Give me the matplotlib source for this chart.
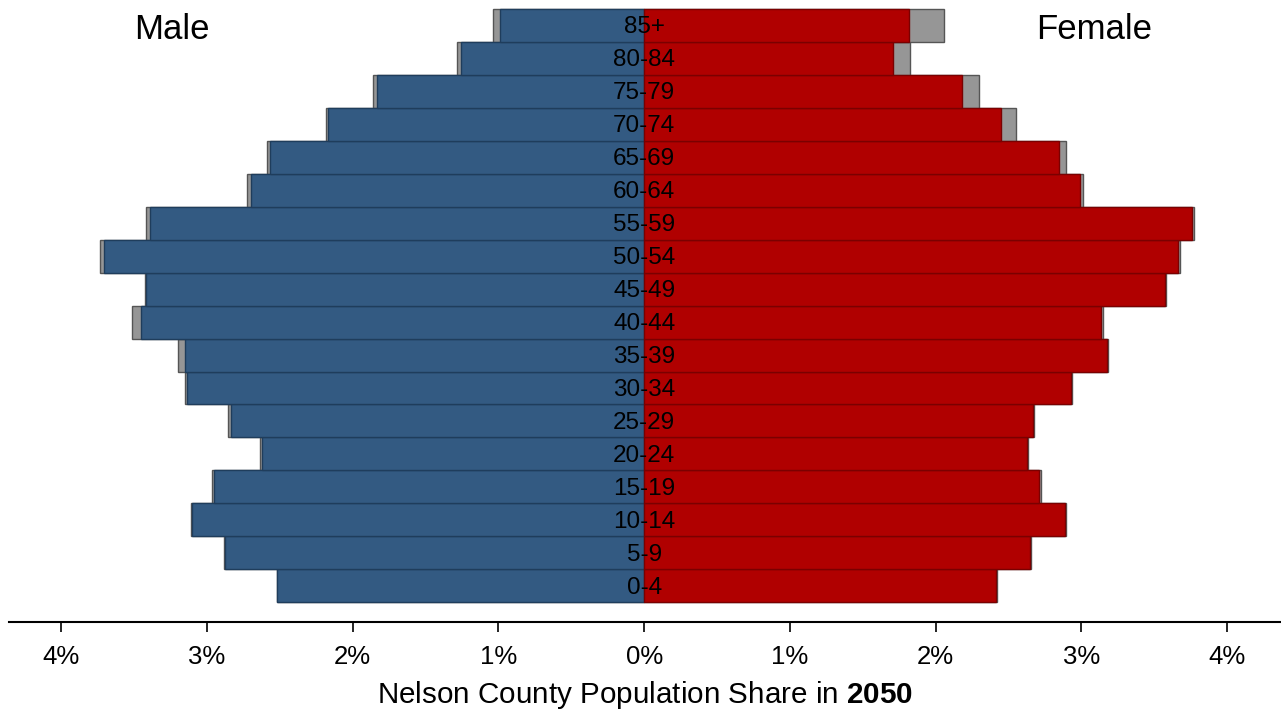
import matplotlib as mpl
mpl.use("Agg")
import matplotlib.pyplot as plt

mpl.rcParams.update({
	"font.family": ["Liberation Sans", "DejaVu Sans"],
	"mathtext.fontset": "custom",
	"mathtext.rm": "Liberation Sans",
	"mathtext.bf": "Liberation Sans:bold",
})

# Age groups, bottom to top.
AGES = ["0-4", "5-9", "10-14", "15-19", "20-24", "25-29", "30-34", "35-39", "40-44",
	"45-49", "50-54", "55-59", "60-64", "65-69", "70-74", "75-79", "80-84", "85+"]

# Population share (%) in 2050.
MALE = [2.516, 2.876, 3.102, 2.951, 2.624, 2.832, 3.134, 3.151, 3.455,
	3.415, 3.705, 3.392, 2.696, 2.566, 2.171, 1.835, 1.256, 0.986]
FEMALE = [2.413, 2.651, 2.889, 2.712, 2.628, 2.665, 2.927, 3.173, 3.136,
	3.572, 3.661, 3.760, 2.991, 2.846, 2.448, 2.180, 1.707, 1.818]

# Comparison shares drawn in gray behind.
MALE_CMP = [2.522, 2.884, 3.111, 2.963, 2.635, 2.856, 3.151, 3.200, 3.511,
	3.427, 3.731, 3.418, 2.728, 2.589, 2.180, 1.862, 1.284, 1.038]
FEMALE_CMP = [2.419, 2.657, 2.895, 2.720, 2.637, 2.674, 2.936, 3.180, 3.147,
	3.583, 3.676, 3.775, 3.014, 2.892, 2.550, 2.297, 1.824, 2.056]

TICKS = [-4, -3, -2, -1, 0, 1, 2, 3, 4]

BLUE = "#335a82"
RED = "#b00000"
GRAY = "#969696"

fig = plt.figure(figsize=(12.81, 7.17), dpi=100)
ax = fig.add_axes([9 / 1281, 95.3 / 717, 1 - 9 / 1281, 1 - 95.3 / 717])

y = list(range(len(AGES)))

# Gray comparison bars first, then the 2050 bars on top.
ax.barh(y, [-v for v in MALE_CMP], height=1.0, color=GRAY, edgecolor="#555555", linewidth=1.0)
ax.barh(y, FEMALE_CMP, height=1.0, color=GRAY, edgecolor="#555555", linewidth=1.0)
ax.barh(y, [-v for v in MALE], height=1.0, color=BLUE, edgecolor="#1f3d5c", linewidth=1.0)
ax.barh(y, FEMALE, height=1.0, color=RED, edgecolor="#7a0000", linewidth=1.0)

for i, age in enumerate(AGES):
	ax.text(0, i - 0.06, age, ha="center", va="center", fontsize=17.5, color="black")

ax.text(-3.24, 16.59, "Male", ha="center", va="baseline", fontsize=25)
ax.text(3.09, 16.59, "Female", ha="center", va="baseline", fontsize=25)

ax.set_xlim(-4.358, 4.37)
ax.set_ylim(-1.09, 17.77)
ax.set_xticks(TICKS)
ax.set_xticklabels(["%d%%" % abs(t) for t in TICKS], fontsize=18.5)
ax.tick_params(axis="x", length=7, width=1.2, pad=10)
ax.set_yticks([])
for side in ["left", "right", "top"]:
	ax.spines[side].set_visible(False)
ax.spines["bottom"].set_linewidth(1.5)

ax.set_xlabel(r"Nelson County Population Share in $\mathbf{2050}$", fontsize=21.3, labelpad=7)

fig.savefig("out.png", dpi=100)
